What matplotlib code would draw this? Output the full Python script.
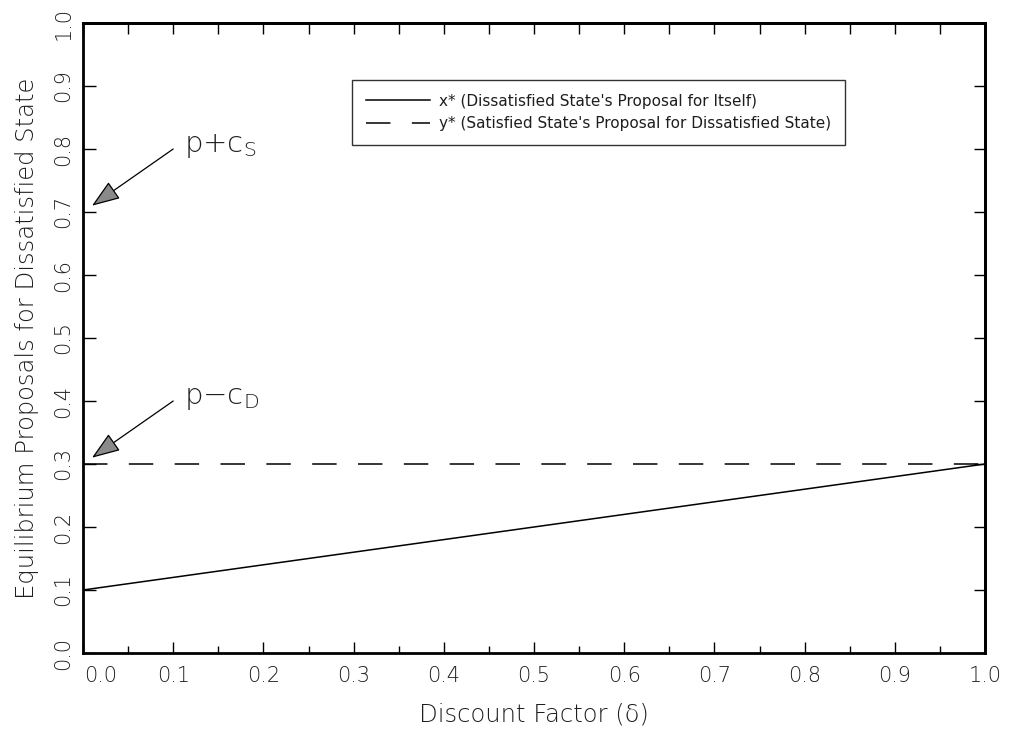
import matplotlib
matplotlib.use("Agg")
import matplotlib.pyplot as plt
import numpy as np
from matplotlib.patches import FancyArrowPatch

# Data
delta = [0.0, 0.1, 0.2, 0.3, 0.4, 0.5, 0.6, 0.7, 0.8, 0.9, 1.0]
x_star = [0.10, 0.12, 0.14, 0.16, 0.18, 0.20, 0.22, 0.24, 0.26, 0.28, 0.30]
y_star = [0.30, 0.30, 0.30, 0.30, 0.30, 0.30, 0.30, 0.30, 0.30, 0.30, 0.30]
xticks = [0.0, 0.1, 0.2, 0.3, 0.4, 0.5, 0.6, 0.7, 0.8, 0.9, 1.0]
xtick_labels = ["0.0", "0.1", "0.2", "0.3", "0.4", "0.5", "0.6", "0.7", "0.8", "0.9", "1.0"]
yticks = [0.0, 0.1, 0.2, 0.3, 0.4, 0.5, 0.6, 0.7, 0.8, 0.9, 1.0]
ytick_labels = ["0.0", "0.1", "0.2", "0.3", "0.4", "0.5", "0.6", "0.7", "0.8", "0.9", "1.0"]
label_x = "x* (Dissatisfied State's Proposal for Itself)"
label_y = "y* (Satisfied State's Proposal for Dissatisfied State)"
ann_ps = {"text": r"p$+$c$_\mathregular{S}$", "tip": (0.01, 0.71), "start": (0.10, 0.80)}
ann_pd = {"text": r"p$-$c$_\mathregular{D}$", "tip": (0.01, 0.31), "start": (0.10, 0.40)}

plt.rcParams['font.family'] = ['DejaVu Sans']
plt.rcParams['mathtext.default'] = 'regular'
TXT = '#1e1e1e'

fig = plt.figure(figsize=(10.1, 7.37), dpi=100)
ax = fig.add_axes([83/1010, 84/737, 902/1010, 630/737])

ax.plot(delta, x_star, color='black', lw=1.1, label=label_x)
ax.plot(delta, y_star, color='black', lw=1.1, dashes=(16, 14), label=label_y)

ax.set_xlim(0, 1)
ax.set_ylim(0, 1)

for s in ax.spines.values():
    s.set_linewidth(2.0)

ax.set_xticks(xticks)
ax.set_xticklabels([''] + xtick_labels[1:], fontsize=15, color=TXT, fontweight='light')
ax.set_xticks(np.arange(0.05, 1.0, 0.1), minor=True)
ax.tick_params(axis='x', which='major', direction='in', length=8, width=1, pad=9, bottom=True, top=False)
ax.tick_params(axis='x', which='minor', direction='in', length=5, width=1, bottom=True, top=False)
ax.annotate(xtick_labels[0], xy=(0.0, 0.0), xycoords='axes fraction', xytext=(18, -13),
            textcoords='offset pixels', ha='center', va='top', fontsize=15, color=TXT, fontweight='light')

ax.set_yticks(yticks)
ax.set_yticklabels(ytick_labels, fontsize=15, color=TXT, rotation=90, va='center', fontweight='light')
ax.tick_params(axis='y', which='major', direction='in', length=9, width=1, pad=7, left=True, right=False)

sec_top = ax.secondary_xaxis('top')
sec_top.set_xticks(np.arange(0.0, 1.0001, 0.05))
sec_top.tick_params(direction='in', length=8, width=1, labeltop=False)
sec_top.spines['top'].set_linewidth(2.0)
sec_right = ax.secondary_yaxis('right')
sec_right.set_yticks(yticks)
sec_right.tick_params(direction='in', length=8, width=1, labelright=False)
sec_right.spines['right'].set_linewidth(2.0)

ax.set_xlabel("Discount Factor (\u03b4)", fontsize=17.5, color=TXT, labelpad=12, fontweight='light')
ax.set_ylabel("Equilibrium Proposals for Dissatisfied State", fontsize=17.5, color=TXT, labelpad=10,
              fontweight='light')

for ann in (ann_ps, ann_pd):
    arr = FancyArrowPatch(ann["start"], ann["tip"], arrowstyle='-|>,head_length=2.2,head_width=0.8',
                          mutation_scale=8, lw=0.9, edgecolor='black', facecolor='#8a8a8a',
                          shrinkA=0, shrinkB=0)
    ax.add_patch(arr)
    ax.text(ann["start"][0] + 0.012, ann["start"][1] + 0.005, ann["text"], fontsize=21, color=TXT,
            ha='left', va='center', fontweight='light')

leg = ax.legend(loc='upper left', bbox_to_anchor=(0.298, 0.9095), borderaxespad=0, fontsize=11.0,
                frameon=True, fancybox=False, edgecolor='black', handlelength=4.2, handletextpad=0.6,
                borderpad=0.9, labelspacing=0.5)
leg.get_frame().set_linewidth(1.0)
for t in leg.get_texts():
    t.set_color(TXT)

fig.savefig('out.png', dpi=100)
